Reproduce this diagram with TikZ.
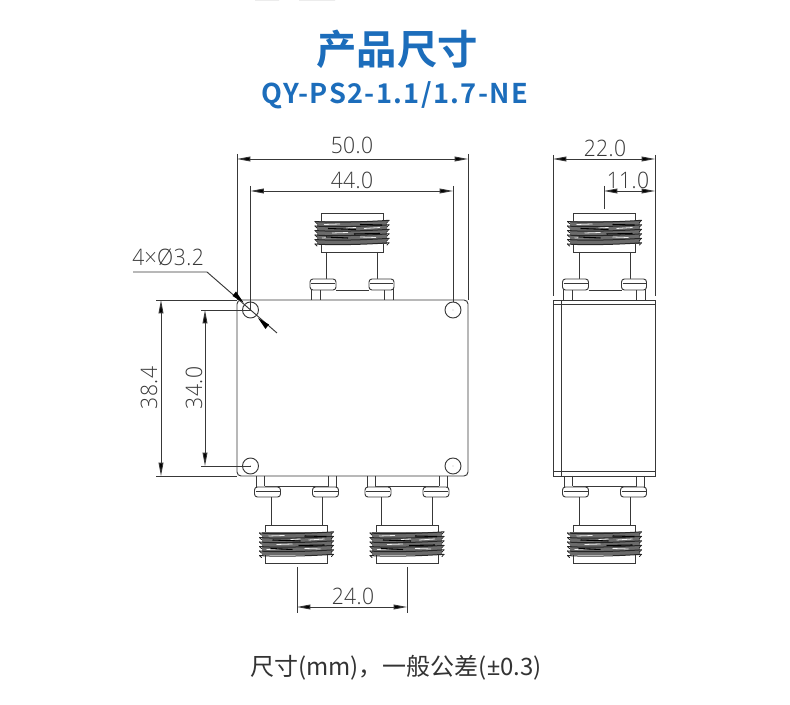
\documentclass[tikz,border=0pt]{standalone}
\usepackage{fontspec}
\usetikzlibrary{arrows.meta}
\newfontfamily\cjkbold{Noto Sans CJK SC Bold}
\newfontfamily\cjkreg{Noto Sans CJK SC}
\newfontfamily\latinreg{Noto Sans}
\newfontfamily\cadfont[FakeStretch=0.93,LetterSpace=2]{Open Sans Light}
\definecolor{titleblue}{HTML}{1C6DBB}
\definecolor{cadline}{gray}{0.22}
\definecolor{captext}{gray}{0.2}
\tikzset{
  cad/.style={draw=cadline,line width=0.7pt},
  dimline/.style={cad,{Triangle[length=10pt,width=3.6pt,fill=black]}-{Triangle[length=10pt,width=3.6pt,fill=black]}},
  dimtext/.style={inner sep=0pt,text=cadline,font=\cadfont\fontsize{17}{17}\selectfont},
  pad/.style={cad,rounded corners=2.2pt,fill=white}
}
\newcommand{\threadat}[2]{%
 \begin{scope}[shift={(#1,#2)}]
  \fill[black!58] (-35,-11.5) rectangle (35,11.5);
  \foreach \yy in {-11,-6.5,-2,2.5,7,11.5}{
    \draw[black!85,line width=0.75pt,line cap=round] (-37,\yy) .. controls (-20,\yy+1.4) and (15,\yy+0.4) .. (37,\yy-1.2);
    \draw[black!85,line width=0.6pt,line cap=round] (-37,\yy) -- (-35,\yy+2) (37,\yy-1.2) -- (35,\yy+1);
  }
  \foreach \xa/\ya/\xb/\yb in {-28/-8/-12/-8.5,12/-4/28/-5,-20/0.5/-4/0,8/4.5/24/5,-30/5.5/-18/5,-6/-4.5/4/-5}{
    \draw[white!90!gray,line width=0.6pt] (\xa,\ya) -- (\xb,\yb);
  }
  \foreach \xa/\ya/\xb/\yb in {-24/-4/4/-3,2/1.5/28/1,-26/4.5/-4/5.5,8/-8/30/-7.5}{
    \draw[black,line width=0.8pt] (\xa,\ya) -- (\xb,\yb);
  }
 \end{scope}}
\newcommand{\conup}[1]{%
 \begin{scope}[shift={(#1,0)}]
  \draw[cad] (-31,213) rectangle (31,252);
  \threadat{0}{232.5}
  \draw[cad] (-25.5,252) -- (-25.5,279) (25.5,252) -- (25.5,279);
  \draw[cad] (-41,300) -- (-41,288) (-32,300) -- (-32,290) (32,300) -- (32,290) (41,300) -- (41,288);
  \draw[cad] (-16,290) -- (17,290);
  \draw[pad] (-42,279) rectangle (-16,290);
  \draw[pad] (17,279) rectangle (42,290);
  \draw[cad,line width=0.35pt] (-41,283) -- (-17,283) (18,283) -- (41,283);
 \end{scope}}
\newcommand{\condown}[1]{%
 \begin{scope}[shift={(#1,0)}]
  \draw[cad] (-31,525) rectangle (31,563);
  \threadat{0}{544}
  \draw[cad] (-25.5,497) -- (-25.5,525) (25.5,497) -- (25.5,525);
  \draw[cad] (-40,476) -- (-40,488) (-32,476) -- (-32,486) (32,476) -- (32,486) (40,476) -- (40,488);
  \draw[cad] (-32,486) -- (32,486);
  \draw[pad] (-42,487) rectangle (-16,497);
  \draw[pad] (16,487) rectangle (42,497);
  \draw[cad,line width=0.35pt] (-41,491) -- (-17,491) (17,491) -- (41,491);
 \end{scope}}
\begin{document}
\begin{tikzpicture}[x=0.75pt,y=-0.75pt]
\useasboundingbox (0,0) rectangle (790,705);
\fill[white] (0,0) rectangle (790,705);
\fill[gray!15] (255,0) rectangle (279,1) (299,0) rectangle (335,1);
% titles
\node[inner sep=0pt,text=titleblue,font=\cjkbold\fontsize{30.3}{30.3}\selectfont] (title) at (397,49) {产品尺寸};
\node[inner sep=0pt,text=titleblue,font=\cjkbold\fontsize{20.4}{20.4}\selectfont\addfontfeature{LetterSpace=5}] (subtitle) at (395,95.5) {QY-PS2-1.1/1.7-NE};
\node[inner sep=0pt,text=captext,font=\cjkreg\fontsize{18}{18}\selectfont] (caption) at (396,668) {尺寸(mm)，一般公差({\latinreg ±}0.3)};
% front body
\draw[cad,rounded corners=3pt] (237,300) rectangle (468,476);
\foreach \hx/\hy in {250.5/310,453/310,250.5/466,453/466}{
  \draw[cad] (\hx,\hy) circle[radius=8];
  \fill[cadline] (\hx,\hy) circle[radius=0.4];
}
\conup{352}
\condown{296.5}
\condown{407}
% front dimensions
\draw[cad] (237,154) -- (237,300) (468,154) -- (468,300);
\draw[cad] (250.5,186) -- (250.5,310) (453,186) -- (453,302);
\draw[dimline] (237,159) -- (468,159);
\draw[dimline] (250.5,191) -- (453,191);
\node[dimtext] (d50) at (352,145) {50.0};
\node[dimtext] (d44) at (352,180) {44.0};
\draw[cad] (156,300) -- (237,300) (156,476) -- (237,476);
\draw[cad] (201,310) -- (250.5,310) (201,466) -- (250.5,466);
\draw[dimline] (161,300) -- (161,476);
\draw[dimline] (205,310) -- (205,466);
\node[dimtext,rotate=90] (d384) at (149,388) {38.4};
\node[dimtext,rotate=90] (d340) at (194,388) {34.0};
\draw[cad] (297,567) -- (297,613) (407,567) -- (407,613);
\draw[dimline] (297,607) -- (407,607);
\node[dimtext] (d24) at (353,596) {24.0};
% hole leader
\node[dimtext,anchor=base west] (dhole) at (132,266) {4×Ø3.2};
\coordinate (la) at (133,272);
\coordinate (lb) at (207,272);
\coordinate (lc) at (277,333);
\draw[cad] (la) -- (lb) -- (lc);
\fill[black] (243.5,302.5) -- (232.5,296) -- (236,291.5) -- cycle;
\fill[black] (258,318) -- (269,324.5) -- (265.5,329) -- cycle;
% side body
\draw[cad] (553,300) rectangle (655,476);
\draw[cad] (561,300) -- (561,476) (553,304) -- (655,304) (553,471) -- (655,471);
\conup{604.5}
\condown{604.5}
% side dimensions
\draw[cad] (553,155) -- (553,296) (655,155) -- (655,296);
\draw[cad] (604,186) -- (604,209);
\draw[dimline] (553,159) -- (655,159);
\draw[dimline] (604,191) -- (655,191);
\node[dimtext] (d22) at (605,148) {22.0};
\node[dimtext] (d11) at (628,180) {11.0};
\end{tikzpicture}
\end{document}
